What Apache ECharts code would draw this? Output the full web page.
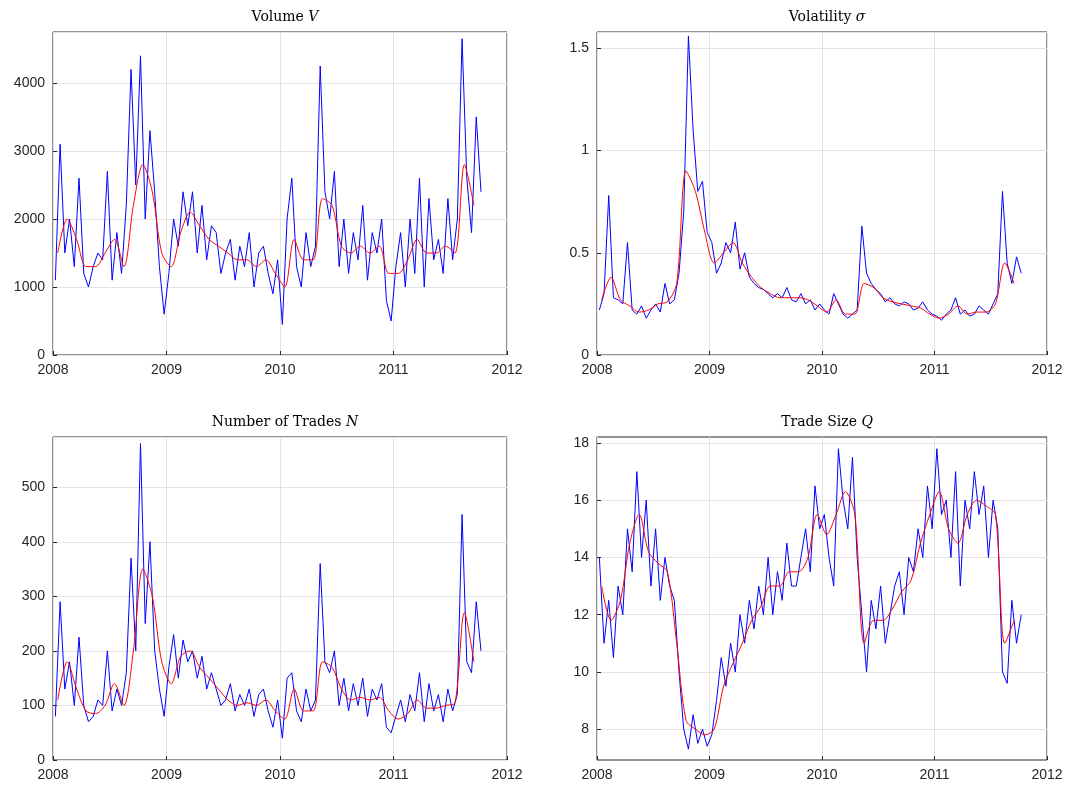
<!DOCTYPE html>
<html><head><meta charset="utf-8">
<script src="https://cdn.jsdelivr.net/npm/echarts@6/dist/echarts.min.js"></script>
<style>html,body{margin:0;background:#fff}#c{width:1067px;height:788px}</style>
</head><body><div id="c"></div>
<script>
// blue: two readings per month from Jan 2008; red: one per month
const volBlue = [1100,3100,1500,2000,1300,2600,1200,1000,1300,1500,1400,2700,1100,1800,1200,2200,4200,2500,4400,2000,3300,2400,1300,600,
  1200,2000,1600,2400,1900,2400,1500,2200,1400,1900,1800,1200,1500,1700,1100,1600,1300,1800,1000,1500,1600,1200,900,1400,
  450,2000,2600,1300,1000,1800,1300,1600,4250,2400,2000,2700,1300,2000,1200,1800,1400,2200,1100,1800,1500,2000,800,500,
  1300,1800,1000,2000,1200,2600,1000,2300,1400,1700,1200,2300,1400,2000,4650,2600,1800,3500,2400];
const volRed = [1500,2000,1700,1300,1300,1500,1700,1300,2200,2800,2400,1500,1300,1800,2100,1900,1700,1600,1500,1400,1400,1300,1400,1200,
  1000,1700,1400,1400,2300,2200,1600,1500,1600,1500,1600,1200,1200,1400,1700,1500,1500,1600,1500,2800,2200];
const sigBlue = [.22,.3,.78,.28,.27,.25,.55,.22,.2,.24,.18,.22,.25,.21,.35,.25,.27,.4,.7,1.56,1.1,.8,.85,.6,
  .55,.4,.45,.55,.5,.65,.42,.5,.38,.35,.33,.32,.3,.28,.3,.28,.33,.27,.26,.3,.25,.27,.22,.25,
  .22,.2,.3,.25,.2,.18,.2,.22,.63,.4,.35,.32,.3,.26,.28,.25,.24,.26,.25,.22,.23,.26,.22,.2,
  .19,.17,.2,.22,.28,.2,.22,.19,.2,.24,.22,.2,.25,.3,.8,.45,.35,.48,.4];
const sigRed = [.27,.38,.27,.24,.21,.22,.25,.26,.35,.9,.8,.6,.45,.5,.55,.45,.38,.33,.3,.28,.28,.28,.27,.24,
  .21,.27,.2,.2,.35,.33,.28,.26,.25,.24,.23,.2,.18,.2,.24,.2,.21,.21,.25,.45,.35];
const nBlue = [80,290,130,180,100,225,100,70,80,110,100,200,90,130,100,160,370,200,580,250,400,200,130,80,
  170,230,150,220,180,200,150,190,130,160,130,100,110,140,90,120,100,130,80,120,130,90,60,110,
  40,150,160,90,70,130,90,110,360,180,160,200,100,150,90,140,100,150,80,130,110,140,60,50,
  80,110,70,120,90,160,70,140,90,120,70,130,90,120,450,180,160,290,200];
const nRed = [110,180,130,90,85,100,140,100,200,350,300,180,140,190,200,170,150,130,110,100,105,100,110,90,
  75,130,90,90,180,170,130,110,115,110,115,90,75,85,110,95,95,100,105,270,180];
const qBlue = [14,11,12.5,10.5,13,12,15,13.5,17,14,16,13,15,12.5,14,13,12.5,10,8,7.3,8.5,7.5,8,7.4,
  7.8,9,10.5,9.5,11,10,12,11,12.5,11.5,13,12,14,12,13.5,12.5,14.5,13,13,14,15,13.5,16.5,15,
  15.5,14,13,17.8,16,15,17.5,14,12,10,12.5,11.5,13,11,12,13,13.5,12,14,13.5,15,14,16.5,15,
  17.8,15.5,16,14,17,13,16,15,17,15.5,16.5,14,16,15,10,9.6,12.5,11,12];
const qRed = [13,11.8,12.5,14.5,15.5,14.2,13.8,13.5,11,8.3,8,7.8,8,9.5,10.3,11,11.8,12.3,13,13,13.5,13.5,14,15.5,
  14.8,15.5,16.3,15.5,11,11.8,11.8,12.2,12.8,13.2,14.5,15.5,16.3,15,14.5,15.5,16,15.8,15.5,11,11.8];
const titles = ['Volume {i|V}', 'Volatility {i|σ}', 'Number of Trades {i|N}', 'Trade Size {i|Q}'];

const halfMonth = (i) => 2008 + (Math.floor(i / 2) + (i % 2 ? 0.75 : 0.25)) / 12;
const month = (i) => 2008 + (i + 0.5) / 12;
const pairs = (arr, fx) => arr.map((v, i) => [fx(i), v]);

const panels = [
  { blue: volBlue, red: volRed, min: 0, max: 4750, interval: 1000 },
  { blue: sigBlue, red: sigRed, min: 0, max: 1.58, interval: 0.5 },
  { blue: nBlue, red: nRed, min: 0, max: 592, interval: 100 },
  { blue: qBlue, red: qRed, min: 6.92, max: 18.21, custom: [8, 10, 12, 14, 16, 18] },
];
const boxes = [[53, 32, 454], [597, 32, 450], [53, 437, 454], [597, 437, 450]];
const grid = [], xAxis = [], yAxis = [], series = [], title = [];
const tickFont = { color: '#262626', fontSize: 14, fontFamily: 'Liberation Sans', formatter: (v) => String(v) };
panels.forEach((p, k) => {
  const [l, t, w] = boxes[k];
  grid.push({ left: l, top: t, width: w, height: 323, show: true, borderColor: '#262626', borderWidth: 1 });
  title.push({ text: titles[k], left: l + w / 2, top: t - 27, textAlign: 'center',
    textStyle: { fontFamily: 'DejaVu Serif', fontWeight: 'normal', fontSize: 14, color: '#000',
      rich: { i: { fontFamily: 'DejaVu Serif', fontStyle: 'italic', fontSize: 14 } } } });
  xAxis.push({ type: 'value', gridIndex: k, min: 2008, max: 2012, interval: 1,
    axisLine: { show: false }, axisTick: { inside: true, length: 4, lineStyle: { color: '#262626' } },
    axisLabel: Object.assign({ margin: 8 }, tickFont),
    splitLine: { lineStyle: { color: '#e3e3e3' } } });
  const y = { type: 'value', gridIndex: k, min: p.min, max: p.max,
    axisLine: { show: false }, axisTick: { inside: true, length: 4, lineStyle: { color: '#262626' } },
    axisLabel: Object.assign({ showMaxLabel: !!p.custom, margin: 8 }, tickFont),
    splitLine: { lineStyle: { color: '#e3e3e3' } } };
  if (p.custom) {
    y.axisLabel.customValues = p.custom;
    y.axisTick.customValues = p.custom;
    y.splitLine.customValues = p.custom;
    y.interval = 2;
  } else y.interval = p.interval;
  yAxis.push(y);
  series.push({ type: 'line', xAxisIndex: k, yAxisIndex: k, data: pairs(p.blue, halfMonth),
    showSymbol: false, lineStyle: { color: '#0000ff', width: 1 }, z: 2 });
  series.push({ type: 'line', xAxisIndex: k, yAxisIndex: k, data: pairs(p.red, month), smooth: 0.3,
    showSymbol: false, lineStyle: { color: '#ff0000', width: 1 }, z: 3 });
});
const chart = echarts.init(document.getElementById('c'));
chart.setOption({ animation: false, title, grid, xAxis, yAxis, series });
</script></body></html>
